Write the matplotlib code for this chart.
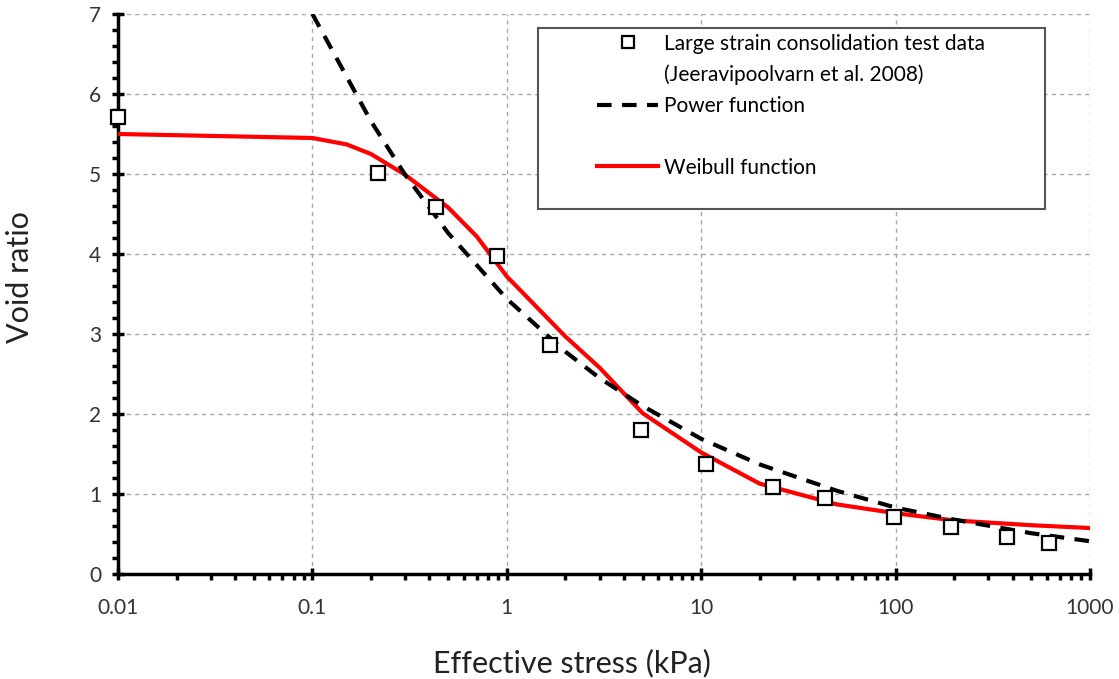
import numpy as np
import matplotlib.pyplot as plt
from matplotlib.patches import Rectangle
from matplotlib.ticker import LogLocator, FixedLocator, MultipleLocator, FuncFormatter

plt.rcParams['font.family'] = ['Lato', 'DejaVu Sans']

# test data (Jeeravipoolvarn et al. 2008)
stress_test = [0.01, 0.217, 0.433, 0.89, 1.67, 4.9, 10.6, 23.5, 43.5, 98, 193, 374, 615]
void_test = [5.71, 5.01, 4.59, 3.98, 2.86, 1.80, 1.37, 1.09, 0.95, 0.71, 0.59, 0.46, 0.39]

# power function curve
stress_pow = [0.1, 0.2, 0.3, 0.5, 1, 2, 3, 5, 10, 20, 50, 100, 200, 500, 1000]
void_pow = [7.0, 5.66, 4.99, 4.26, 3.44, 2.78, 2.45, 2.10, 1.69, 1.37, 1.04, 0.83, 0.68, 0.51, 0.41]

# weibull function curve
stress_wb = [0.01, 0.1, 0.15, 0.2, 0.3, 0.5, 0.7, 1, 2, 3, 5, 10, 20, 50, 100, 200, 500, 1000]
void_wb = [5.50, 5.45, 5.37, 5.25, 4.99, 4.58, 4.22, 3.72, 2.97, 2.58, 2.01, 1.52, 1.13, 0.87, 0.76, 0.67, 0.61, 0.575]

fig = plt.figure(figsize=(11.19, 6.79), dpi=100)
ax = fig.add_axes([0.1055, 0.1546, 0.974 - 0.1055, 0.9794 - 0.1546])

h_test, = ax.plot(stress_test, void_test, 's', ms=10, mfc='white', mec='black', mew=1.6,
                  label='Large strain consolidation test data', zorder=5, clip_on=False)
h_pow, = ax.plot(stress_pow, void_pow, '--', color='black', lw=3, dashes=(3.5, 2.5),
                 label='Power function', zorder=4)
h_wb, = ax.plot(stress_wb, void_wb, '-', color='#ff0000', lw=3, label='Weibull function', zorder=3)
h_ref, = ax.plot([], [], ' ', label='(Jeeravipoolvarn et al. 2008)')
blank, = ax.plot([], [], ' ', label=' ')

ax.set_xscale('log')
ax.set_xlim(0.01, 1000)
ax.set_ylim(0, 7)
ax.xaxis.set_major_locator(FixedLocator([0.01, 0.1, 1, 10, 100, 1000]))
ax.xaxis.set_major_formatter(FuncFormatter(lambda v, p: '{:g}'.format(v)))
ax.xaxis.set_minor_locator(LogLocator(base=10, subs=np.arange(2, 10)))
ax.yaxis.set_major_locator(MultipleLocator(1))
ax.yaxis.set_minor_locator(MultipleLocator(0.2))

ax.grid(True, which='major', ls=(0, (3, 3)), color='#a8a8a8', lw=1)
for s in ['top', 'right']:
    ax.spines[s].set_visible(False)
for s in ['left', 'bottom']:
    ax.spines[s].set_linewidth(2.5)

ax.tick_params(which='major', direction='inout', length=8, width=2.5, labelsize=15,
               colors='black', labelcolor='#333333')
ax.tick_params(which='minor', direction='out', length=4, width=2.5)
ax.tick_params(axis='x', pad=13)
ax.tick_params(axis='y', pad=8)

ax.set_xlabel('Effective stress (kPa)', fontsize=22, color='#222222')
ax.set_ylabel('Void ratio', fontsize=22, color='#222222')
ax.xaxis.set_label_coords(0.467, -0.134)
ax.yaxis.set_label_coords(-0.087, 0.53)

# legend box
ax.add_patch(Rectangle((0.4321, 0.6518), 0.5216, 0.3232, transform=ax.transAxes,
                       facecolor='white', edgecolor='#555555', lw=1.5, zorder=6, clip_on=False))
leg = ax.legend(handles=[h_test, h_ref, h_pow, blank, h_wb], loc='upper left',
                bbox_to_anchor=(0.4928, 0.965), fontsize=15, frameon=False,
                handlelength=2.95, labelspacing=0.52, borderpad=0, borderaxespad=0,
                handletextpad=0.25, markerscale=0.8)
leg.set_zorder(7)

plt.savefig('out.png', dpi=100)
